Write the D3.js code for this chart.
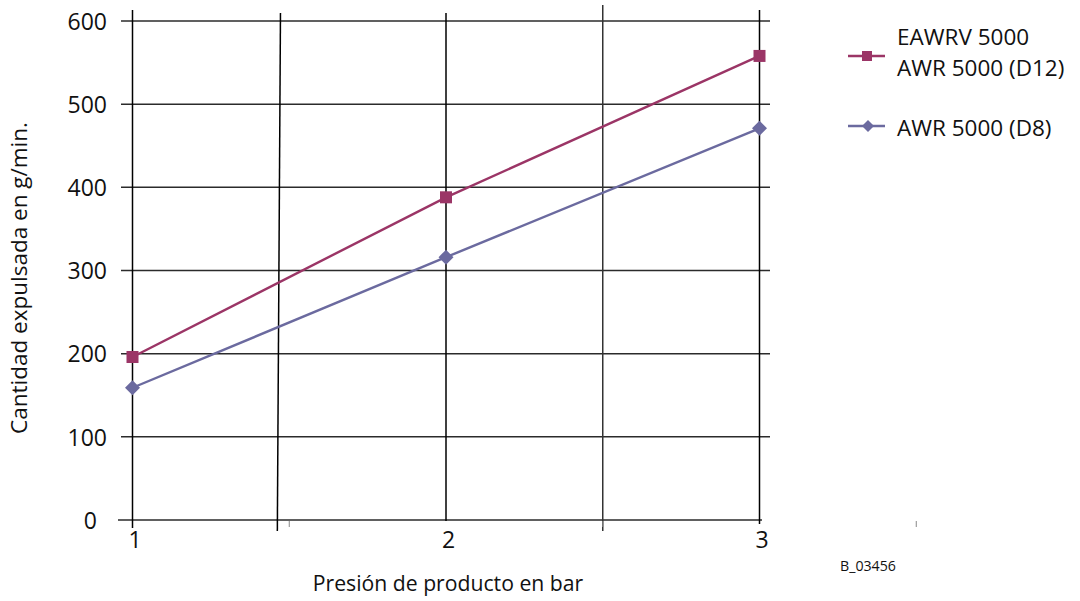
<!DOCTYPE html>
<html>
<head>
<meta charset="utf-8">
<script src="https://cdn.jsdelivr.net/npm/d3@7/dist/d3.min.js"></script>
<style>
  html, body { margin: 0; padding: 0; background: #fff; }
  svg { display: block; font-family: "Open Sans", "Noto Sans", sans-serif; }
</style>
</head>
<body>
<svg id="chart" width="1080" height="601"></svg>
<script>
// Pressure values (bar) and discharged quantity (g/min)
const pressures = [1, 2, 3];
const seriesD12 = [196, 388, 558];
const seriesD8 = [159, 316, 471];
const seriesNames = [["EAWRV 5000", "AWR 5000 (D12)"], ["AWR 5000 (D8)"]];
const yTicks = [0, 100, 200, 300, 400, 500, 600];
const xTicks = [1, 2, 3];
const xMinorTicks = [1.5, 2.5, 3.5];
const xTitle = "Presión de producto en bar";
const yTitle = "Cantidad expulsada en g/min.";
const figureCode = "B_03456";

const colD12 = "#9b3566";
const colD8 = "#6b6a9f";
const gridCol = "#2b2b2b";

const svg = d3.select("#chart");

const x = d3.scaleLinear().domain([1, 3]).range([132.5, 759.5]);
const y = d3.scaleLinear().domain([0, 600]).range([520, 21]);

// Horizontal grid lines
const gGrid = svg.append("g");
gGrid.selectAll("line.h")
  .data(yTicks)
  .join("line")
  .attr("x1", d => d === 0 ? 118 : 121)
  .attr("x2", d => d === 0 ? 762 : 770)
  .attr("y1", d => y(d))
  .attr("y2", d => y(d))
  .attr("stroke", gridCol)
  .attr("stroke-width", 1.5);

// Vertical grid lines (top / bottom end in pixel terms, x in data terms)
const vLines = [
  { xt: 1, xb: 1, top: 10, bottom: 528, c: "#000" },
  { xt: 1.472, xb: 1.462, top: 13, bottom: 531, c: "#000" },
  { xt: 2, xb: 2, top: 13, bottom: 521, c: "#000" },
  { xt: 2.5, xb: 2.5, top: 5, bottom: 531, c: "#333" },
  { xt: 3, xb: 3, top: 10, bottom: 524, c: "#000" }
];
gGrid.selectAll("line.v")
  .data(vLines)
  .join("line")
  .attr("x1", d => x(d.xt))
  .attr("x2", d => x(d.xb))
  .attr("y1", d => d.top)
  .attr("y2", d => d.bottom)
  .attr("stroke", d => d.c)
  .attr("stroke-width", 1.5);

// Minor ticks below the x axis
gGrid.selectAll("line.minor")
  .data(xMinorTicks)
  .join("line")
  .attr("x1", d => x(d))
  .attr("x2", d => x(d))
  .attr("y1", y(0) + 1)
  .attr("y2", y(0) + 7)
  .attr("stroke", "#888")
  .attr("stroke-width", 1);

// Y axis labels
const yAxis = d3.axisLeft(y).tickValues(yTicks).tickSize(0).tickPadding(0);
const gy = svg.append("g").attr("transform", "translate(107,0)").call(yAxis);
gy.select(".domain").remove();
gy.selectAll("text")
  .attr("font-family", "Open Sans")
  .attr("font-size", 23)
  .attr("fill", "#111")
  .attr("dy", "0.36em")
  .attr("dx", d => d === 0 ? -10 : 0);

// X axis labels
const xAxis = d3.axisBottom(x).tickValues(xTicks).tickSize(0).tickPadding(0).tickFormat(d3.format("d"));
const gx = svg.append("g").attr("transform", "translate(2,532)").call(xAxis);
gx.select(".domain").remove();
gx.selectAll("text")
  .attr("font-family", "Open Sans")
  .attr("font-size", 23)
  .attr("fill", "#111")
  .attr("dy", "0.71em");

// Series lines and markers
const line = d3.line().x((d, i) => x(pressures[i])).y(d => y(d));

svg.append("path").datum(seriesD12)
  .attr("d", line).attr("fill", "none")
  .attr("stroke", colD12).attr("stroke-width", 2.4);
svg.append("path").datum(seriesD8)
  .attr("d", line).attr("fill", "none")
  .attr("stroke", colD8).attr("stroke-width", 2.4);

svg.append("g").selectAll("rect")
  .data(seriesD12)
  .join("rect")
  .attr("x", (d, i) => x(pressures[i]) - 6)
  .attr("y", d => y(d) - 6)
  .attr("width", 12).attr("height", 12)
  .attr("fill", colD12);

const diamond = s => `M0,${-s}L${s},0L0,${s}L${-s},0Z`;
svg.append("g").selectAll("path")
  .data(seriesD8)
  .join("path")
  .attr("d", diamond(7.5))
  .attr("transform", (d, i) => `translate(${x(pressures[i])},${y(d)})`)
  .attr("fill", colD8);

// Axis titles
svg.append("text")
  .attr("x", 448).attr("y", 591)
  .attr("text-anchor", "middle")
  .attr("font-size", 21.2)
  .attr("fill", "#111")
  .text(xTitle);

svg.append("text")
  .attr("transform", "translate(27,278) rotate(-90)")
  .attr("text-anchor", "middle")
  .attr("font-size", 22.5)
  .attr("fill", "#111")
  .text(yTitle);

// Legend
const legend = svg.append("g");
const legendRows = [
  { name: seriesNames[0], color: colD12, ly: 56, shape: "square", textY: [45, 76] },
  { name: seriesNames[1], color: colD8, ly: 126, shape: "diamond", textY: [136] }
];
legendRows.forEach(r => {
  legend.append("line")
    .attr("x1", 848).attr("x2", 885)
    .attr("y1", r.ly).attr("y2", r.ly)
    .attr("stroke", r.color).attr("stroke-width", 2.4);
  if (r.shape === "square") {
    legend.append("rect")
      .attr("x", 867 - 5).attr("y", r.ly - 5)
      .attr("width", 10).attr("height", 10)
      .attr("fill", r.color);
  } else {
    legend.append("path")
      .attr("d", diamond(6))
      .attr("transform", `translate(868,${r.ly})`)
      .attr("fill", r.color);
  }
  r.name.forEach((t, i) => {
    legend.append("text")
      .attr("x", 897).attr("y", r.textY[i])
      .attr("font-size", 22.5)
      .attr("fill", "#111")
      .text(t);
  });
});

// Figure code
svg.append("text")
  .attr("x", 840).attr("y", 571)
  .attr("font-size", 14.2)
  .attr("fill", "#111")
  .text(figureCode);
</script>
</body>
</html>
